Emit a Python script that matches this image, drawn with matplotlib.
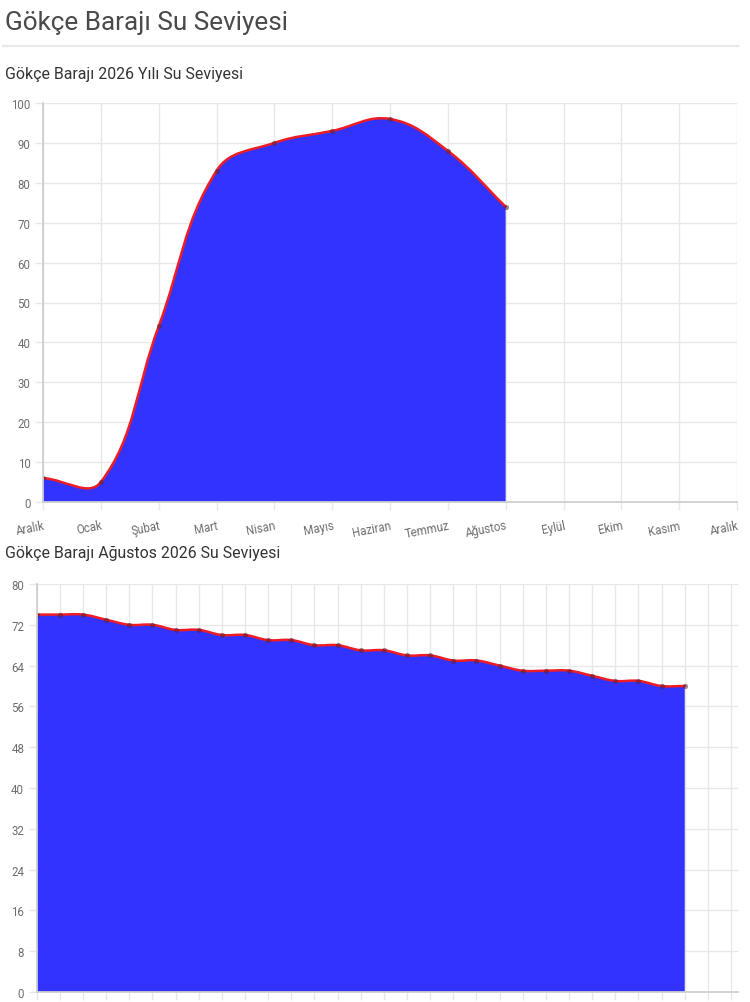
import matplotlib
matplotlib.use("Agg")
import matplotlib.pyplot as plt
from matplotlib.path import Path
from matplotlib.patches import PathPatch
from matplotlib.lines import Line2D
import numpy as np

plt.rcParams['font.family'] = ['Roboto', 'DejaVu Sans']

# ---------------- data ----------------
main_title = "Gökçe Barajı Su Seviyesi"
title_year = "Gökçe Barajı 2026 Yılı Su Seviyesi"
title_month = "Gökçe Barajı Ağustos 2026 Su Seviyesi"

months = ["Aralık", "Ocak", "Şubat", "Mart", "Nisan", "Mayıs", "Haziran",
          "Temmuz", "Ağustos", "Eylül", "Ekim", "Kasım", "Aralık"]
year_levels = [6, 5, 44, 83, 90, 93, 96, 88, 74]
year_yticks = [0, 10, 20, 30, 40, 50, 60, 70, 80, 90, 100]

days = [str(d) for d in range(1, 32)]
aug_levels = [74, 74, 74, 73, 72, 72, 71, 71, 70, 70, 69, 69, 68, 68, 67,
              67, 66, 66, 65, 65, 64, 63, 63, 63, 62, 61, 61, 60, 60]
aug_yticks = [0, 8, 16, 24, 32, 40, 48, 56, 64, 72, 80]

FILL = "#3333ff"
LINE = "#ee1c25"
GRID = "#e8e8e8"
AXIS = "#cfcfcf"
TICKC = "#6e6e6e"

W, H = 750, 1003
fig = plt.figure(figsize=(W / 100, H / 100), dpi=100)
fig.patch.set_facecolor("white")


def px_axes(left, top, right, bottom):
    return fig.add_axes([left / W, 1 - bottom / H, (right - left) / W, (bottom - top) / H])


def spline_path(ax, xs, ys, tension=0.4):
    # Chart.js style bezier control points computed in pixel space
    bb = ax.get_window_extent()
    x0, x1 = ax.get_xlim()
    y0, y1 = ax.get_ylim()
    sx = bb.width / (x1 - x0)
    sy = bb.height / (y1 - y0)
    P = np.column_stack([np.asarray(xs, float) * sx, np.asarray(ys, float) * sy])
    n = len(P)
    prev_cp = np.zeros_like(P)
    next_cp = np.zeros_like(P)
    ymin, ymax = y0 * sy, y1 * sy
    for i in range(n):
        pr = P[i - 1] if i > 0 else P[i]
        cu = P[i]
        nx = P[i + 1] if i < n - 1 else P[i]
        d01 = np.hypot(*(cu - pr))
        d12 = np.hypot(*(nx - cu))
        tot = d01 + d12
        s01 = d01 / tot if tot else 0
        s12 = d12 / tot if tot else 0
        prev_cp[i] = cu - tension * s01 * (nx - pr)
        next_cp[i] = cu + tension * s12 * (nx - pr)
    prev_cp[:, 1] = np.clip(prev_cp[:, 1], ymin, ymax)
    next_cp[:, 1] = np.clip(next_cp[:, 1], ymin, ymax)
    scale = np.array([sx, sy])
    P, prev_cp, next_cp = P / scale, prev_cp / scale, next_cp / scale
    verts = [tuple(P[0])]
    codes = [Path.MOVETO]
    for i in range(n - 1):
        verts += [tuple(next_cp[i]), tuple(prev_cp[i + 1]), tuple(P[i + 1])]
        codes += [Path.CURVE4] * 3
    return verts, codes


def area_chart(ax, xs, ys):
    verts, codes = spline_path(ax, xs, ys)
    fv = verts + [(xs[-1], 0), (xs[0], 0), verts[0]]
    fc = codes + [Path.LINETO, Path.LINETO, Path.CLOSEPOLY]
    ax.add_patch(PathPatch(Path(fv, fc), facecolor=FILL, edgecolor="none", zorder=2))
    ax.add_patch(PathPatch(Path(verts, codes), facecolor="none", edgecolor=LINE,
                           lw=1.8, zorder=3, capstyle="round", joinstyle="round"))
    ax.scatter(xs, ys, s=14, color="#5b2333", alpha=0.55, zorder=4, linewidths=0)


def style_axes(ax, yticks):
    ax.set_facecolor("white")
    ax.set_yticks(yticks)
    ax.grid(True, color=GRID, lw=1, zorder=0)
    ax.set_axisbelow(True)
    for s in ["top", "right"]:
        ax.spines[s].set_visible(False)
    for s in ["left", "bottom"]:
        ax.spines[s].set_color(AXIS)
        ax.spines[s].set_linewidth(1.3)
        ax.spines[s].set_zorder(5)
    ax.tick_params(axis="both", color=GRID, length=6, width=1, labelcolor=TICKC,
                   labelsize=8.3, pad=3)


# ---------------- header ----------------
fig.text(5 / W, 1 - 23 / H, main_title, fontsize=18.8, color="#4a4a4a",
         ha="left", va="center")
fig.add_artist(Line2D([3 / W, 738 / W], [1 - 47 / H, 1 - 47 / H],
                      color="#e8e8e8", lw=1.6))
fig.text(5 / W, 1 - 75 / H, title_year, fontsize=11.4, color="#333333",
         ha="left", va="center")
fig.text(5 / W, 1 - 553 / H, title_month, fontsize=11.4, color="#333333",
         ha="left", va="center")

# ---------------- chart 1 ----------------
ax1 = px_axes(43, 104, 737, 503)
ax1.set_xlim(0, len(months) - 1)
ax1.set_ylim(0, 100)
style_axes(ax1, year_yticks)
ax1.set_xticks(range(len(months)))
ax1.set_xticklabels(months, rotation=11, ha="right", rotation_mode="anchor")
ax1.tick_params(axis="x", pad=6)
area_chart(ax1, list(range(len(year_levels))), year_levels)

# ---------------- chart 2 ----------------
ax2 = px_axes(36.7, 585, 738, 993)
ax2.set_xlim(0, 30.3)
ax2.set_ylim(0, 80)
style_axes(ax2, aug_yticks)
ax2.set_xticks(range(len(days)))
ax2.set_xticklabels([""] * len(days))
area_chart(ax2, list(range(len(aug_levels))), aug_levels)

fig.savefig("out.png", dpi=100, facecolor="white")
